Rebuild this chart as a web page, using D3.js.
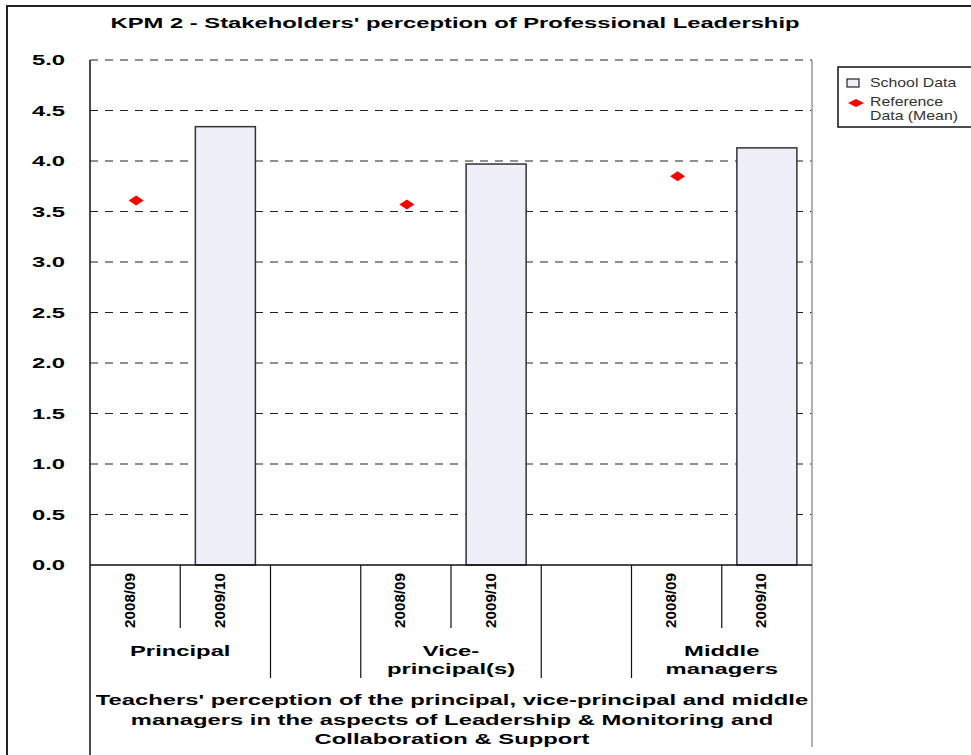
<!DOCTYPE html>
<html>
<head>
<meta charset="utf-8">
<script src="https://cdn.jsdelivr.net/npm/d3@7"></script>
<style>
  html, body { margin: 0; padding: 0; background: #fff; }
  svg { display: block; }
  text { font-family: "Liberation Sans", Arial, sans-serif; }
</style>
</head>
<body>
<svg id="chart" width="971" height="755"></svg>
<script>
// ---- data ----
const groups = ["Principal", "", "Vice-principal(s)", "", "Middle managers"];
const groupLabelLines = [["Principal"], [], ["Vice-", "principal(s)"], [], ["Middle", "managers"]];
const years = ["2008/09", "2009/10"];
const schoolData = [4.34, 3.97, 4.13];      // 2009/10 bars
const referenceData = [3.61, 3.57, 3.85];   // 2008/09 diamonds
const yTicks = [0, 0.5, 1, 1.5, 2, 2.5, 3, 3.5, 4, 4.5, 5];
const title = "KPM 2 - Stakeholders' perception of Professional Leadership";
const axisTitleLines = [
  "Teachers' perception of the principal, vice-principal and middle",
  "managers in the aspects of Leadership & Monitoring and",
  "Collaboration & Support"
];
const legendItems = ["School Data", ["Reference", "Data (Mean)"]];

// ---- build slots ----
const slots = [];
groups.forEach((g, gi) => {
  if (g === "") slots.push({ key: "gap" + gi, group: gi, year: null });
  else years.forEach(y => slots.push({ key: g + "|" + y, group: gi, year: y }));
});

const svg = d3.select("#chart");
const L = 90, R = 812, T = 60, B = 565;
const x = d3.scaleBand().domain(slots.map(s => s.key)).range([L, R]).paddingInner(0).paddingOuter(0);
const y = d3.scaleLinear().domain([0, 5]).range([B, T]);
const SX = 1.7;

function hText(parent, px, py, str, size, anchor, weight, sx, fill) {
  return parent.append("text")
    .attr("transform", `translate(${px},${py}) scale(${sx},1)`)
    .attr("text-anchor", anchor)
    .attr("font-size", size)
    .attr("font-weight", weight)
    .attr("fill", fill || "#000")
    .text(str);
}

// outer frame
svg.append("rect").attr("x", 7).attr("y", 6).attr("width", 1000).attr("height", 800)
  .attr("fill", "none").attr("stroke", "#222").attr("stroke-width", 2);

// title
hText(svg, 455, 28, title, 14, "middle", "bold", SX);

// gridlines
svg.append("g").selectAll("line").data(yTicks.filter(d => d > 0)).join("line")
  .attr("x1", L).attr("x2", R)
  .attr("y1", d => y(d)).attr("y2", d => y(d))
  .attr("stroke", "#222").attr("stroke-width", 1.2).attr("stroke-dasharray", "8,7");

// y tick labels
const yl = svg.append("g");
yTicks.forEach(t => hText(yl, 65, y(t) + 5, d3.format(".1f")(t), 14, "end", "bold", SX));

// right plot border (gray)
svg.append("line").attr("x1", R).attr("x2", R).attr("y1", T).attr("y2", 747)
  .attr("stroke", "#999").attr("stroke-width", 1.5);

// bars (2009/10)
const barSlots = groups.map((g, i) => g ? g + "|" + years[1] : null).filter(Boolean);
const refSlots = groups.map((g, i) => g ? g + "|" + years[0] : null).filter(Boolean);
const bw = x.bandwidth() * 0.665;
svg.append("g").selectAll("rect").data(schoolData).join("rect")
  .attr("x", (d, i) => x(barSlots[i]) + (x.bandwidth() - bw) / 2)
  .attr("width", bw)
  .attr("y", d => y(d))
  .attr("height", d => y(0) - y(d))
  .attr("fill", "#efeffa")
  .attr("stroke", "#333").attr("stroke-width", 1.5);

// reference diamonds
const diamond = (cx, cy, w, h) => `M${cx - w / 2},${cy} L${cx},${cy - h / 2} L${cx + w / 2},${cy} L${cx},${cy + h / 2} Z`;
svg.append("g").selectAll("path").data(referenceData).join("path")
  .attr("d", (d, i) => diamond(x(refSlots[i]) + x.bandwidth() / 2 + 1, y(d), 15, 10))
  .attr("fill", "#ff0000");

// axes lines
svg.append("line").attr("x1", L).attr("x2", L).attr("y1", T).attr("y2", 755)
  .attr("stroke", "#111").attr("stroke-width", 1.5);
svg.append("line").attr("x1", L).attr("x2", R).attr("y1", B).attr("y2", B)
  .attr("stroke", "#111").attr("stroke-width", 1.5);

// category dividers
const div = svg.append("g");
slots.forEach((s, i) => {
  if (i === 0) return;
  const xb = x(s.key);
  const prev = slots[i - 1];
  const sameGroup = prev.group === s.group;
  div.append("line").attr("x1", xb).attr("x2", xb)
    .attr("y1", B).attr("y2", sameGroup ? 628 : 678)
    .attr("stroke", "#111").attr("stroke-width", 1.2);
});

// year labels (rotated)
const yrG = svg.append("g");
slots.filter(s => s.year).forEach(s => {
  const cx = x(s.key) + x.bandwidth() / 2;
  yrG.append("text")
    .attr("transform", `translate(${cx - 0.5},573) rotate(-90) scale(1,1.08)`)
    .attr("text-anchor", "end")
    .attr("font-size", 14)
    .attr("font-weight", "bold")
    .attr("textLength", 55)
    .attr("lengthAdjust", "spacingAndGlyphs")
    .text(s.year);
});

// group labels
const gl = svg.append("g");
groups.forEach((g, gi) => {
  if (!g) return;
  const gs = slots.filter(s => s.group === gi);
  const cx = (x(gs[0].key) + x(gs[gs.length - 1].key) + x.bandwidth()) / 2;
  groupLabelLines[gi].forEach((ln, li) => hText(gl, cx, 656 + li * 18, ln, 14, "middle", "bold", SX));
});

// axis title
const at = svg.append("g");
axisTitleLines.forEach((ln, i) => hText(at, (L + R) / 2 + 1, 705 + i * 19.5, ln, 14, "middle", "bold", SX));

// legend
const lg = svg.append("g");
lg.append("rect").attr("x", 838).attr("y", 67).attr("width", 200).attr("height", 60)
  .attr("fill", "#fff").attr("stroke", "#111").attr("stroke-width", 1.5);
lg.append("rect").attr("x", 847).attr("y", 79).attr("width", 12).attr("height", 8)
  .attr("fill", "#efeffa").attr("stroke", "#222").attr("stroke-width", 1.2);
hText(lg, 870, 87, legendItems[0], 12, "start", "normal", 1.32, "#333");
lg.append("path").attr("d", diamond(856, 103, 16, 8)).attr("fill", "#ff0000");
hText(lg, 870, 106, legendItems[1][0], 12, "start", "normal", 1.32, "#333");
hText(lg, 870, 120, legendItems[1][1], 12, "start", "normal", 1.32, "#333");
</script>
</body>
</html>
